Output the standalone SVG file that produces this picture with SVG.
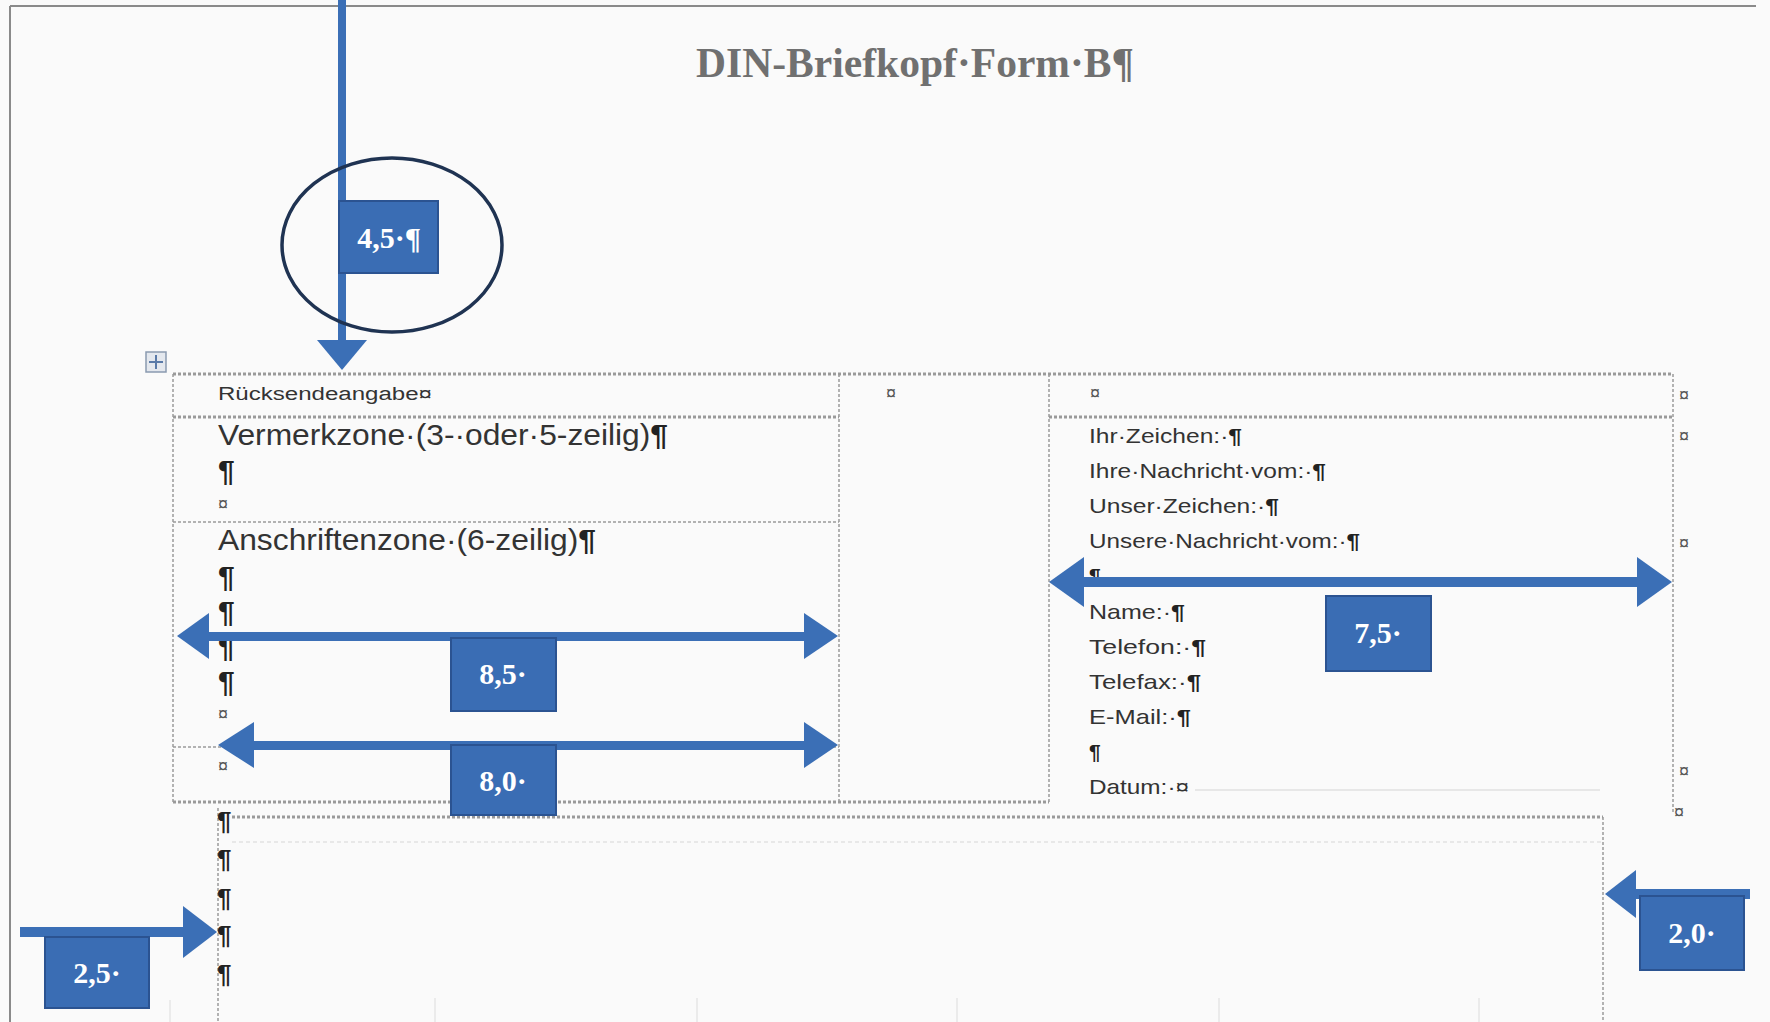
<svg xmlns="http://www.w3.org/2000/svg" width="1770" height="1022" viewBox="0 0 1770 1022">
<style>
.dot{stroke:#9a9a9a;stroke-width:1.5;stroke-dasharray:3 2;fill:none}
.dotb{stroke:#9a9a9a;stroke-width:3;stroke-dasharray:3 2;fill:none}
.t{font-family:"Liberation Sans",Arial,sans-serif;fill:#333}
.big{font-size:30px}
.sm{font-size:21px}
.p{font-weight:bold;fill:#222}
.mk{font-family:"Liberation Sans",Arial,sans-serif;font-size:18px;fill:#555}
.pil{font-family:"Liberation Sans",Arial,sans-serif;font-size:26px;font-weight:bold;fill:#222}
.box{fill:#3a6db4;stroke:#2b5391;stroke-width:2}
.bl{font-family:"Liberation Serif","Times New Roman",serif;font-weight:bold;font-size:30px;fill:#fff;text-anchor:middle}
.arr{fill:#3b6fb6}
</style>
<rect x="0" y="0" width="1770" height="1022" fill="#fafafa"/>
<g id="page">
<line x1="10" y1="6" x2="1756" y2="6" stroke="#8a8a8a" stroke-width="2"/>
<line x1="10" y1="6" x2="10" y2="1022" stroke="#8a8a8a" stroke-width="2"/>
<g stroke="#e6e6e6" stroke-width="1.5">
<line x1="170" y1="1000" x2="170" y2="1022"/>
<line x1="435" y1="998" x2="435" y2="1022"/>
<line x1="697" y1="998" x2="697" y2="1022"/>
<line x1="957" y1="998" x2="957" y2="1022"/>
<line x1="1219" y1="998" x2="1219" y2="1022"/>
<line x1="1479" y1="998" x2="1479" y2="1022"/>
</g>
</g>
<g id="title">
<text x="696" y="77" font-family="'Liberation Serif','Times New Roman',serif" font-weight="bold" font-size="42" fill="#707070" textLength="438" lengthAdjust="spacingAndGlyphs">DIN-Briefkopf·Form·B¶</text>
</g>
<g id="table">
<rect x="146" y="352" width="20" height="20" fill="#e4e8ee" stroke="#8a9ab0" stroke-width="1.5"/>
<path d="M156 355 V369 M149 362 H163" stroke="#5a7aa8" stroke-width="2"/>
<line class="dotb" x1="173" y1="374" x2="1673" y2="374"/>
<line class="dot" x1="173" y1="374" x2="173" y2="802"/>
<line class="dot" x1="839" y1="374" x2="839" y2="802"/>
<line class="dot" x1="1049" y1="374" x2="1049" y2="802"/>
<line class="dot" x1="1673" y1="374" x2="1673" y2="812"/>
<line class="dotb" x1="173" y1="417" x2="839" y2="417"/>
<line class="dotb" x1="1049" y1="417" x2="1673" y2="417"/>
<line class="dot" x1="173" y1="522" x2="839" y2="522"/>
<line class="dot" x1="173" y1="747" x2="839" y2="747"/>
<line class="dotb" x1="173" y1="802" x2="1049" y2="802"/>
<line x1="1195" y1="790" x2="1600" y2="790" stroke="#e0e0e0" stroke-width="1.5"/>
<text class="t" x="218" y="400" font-size="18" textLength="214" lengthAdjust="spacingAndGlyphs">Rücksendeangabe¤</text>
<text class="t big" x="218" y="445" textLength="450" lengthAdjust="spacingAndGlyphs">Vermerkzone·(3-·oder·5-zeilig)<tspan class="p">¶</tspan></text>
<text class="t big p" x="218" y="481">¶</text>
<text class="mk" x="218" y="510">¤</text>
<text class="t big" x="218" y="550" textLength="378" lengthAdjust="spacingAndGlyphs">Anschriftenzone·(6-zeilig)<tspan class="p">¶</tspan></text>
<text class="t big p" x="218" y="587">¶</text>
<text class="t big p" x="218" y="622">¶</text>
<text class="t big p" x="218" y="657">¶</text>
<text class="t big p" x="218" y="692">¶</text>
<text class="mk" x="218" y="720">¤</text>
<text class="mk" x="218" y="772">¤</text>
<text class="mk" x="886" y="399">¤</text>
<text class="mk" x="1090" y="399">¤</text>
<text class="t sm" x="1089" y="443" textLength="153" lengthAdjust="spacingAndGlyphs">Ihr·Zeichen:·<tspan class="p">¶</tspan></text>
<text class="t sm" x="1089" y="478" textLength="237" lengthAdjust="spacingAndGlyphs">Ihre·Nachricht·vom:·<tspan class="p">¶</tspan></text>
<text class="t sm" x="1089" y="513" textLength="190" lengthAdjust="spacingAndGlyphs">Unser·Zeichen:·<tspan class="p">¶</tspan></text>
<text class="t sm" x="1089" y="548" textLength="271" lengthAdjust="spacingAndGlyphs">Unsere·Nachricht·vom:·<tspan class="p">¶</tspan></text>
<text class="t sm p" x="1089" y="583">¶</text>
<text class="t sm" x="1089" y="619" textLength="96" lengthAdjust="spacingAndGlyphs">Name:·<tspan class="p">¶</tspan></text>
<text class="t sm" x="1089" y="654" textLength="117" lengthAdjust="spacingAndGlyphs">Telefon:·<tspan class="p">¶</tspan></text>
<text class="t sm" x="1089" y="689" textLength="112" lengthAdjust="spacingAndGlyphs">Telefax:·<tspan class="p">¶</tspan></text>
<text class="t sm" x="1089" y="724" textLength="102" lengthAdjust="spacingAndGlyphs">E-Mail:·<tspan class="p">¶</tspan></text>
<text class="t sm p" x="1089" y="759">¶</text>
<text class="t sm" x="1089" y="794" textLength="100" lengthAdjust="spacingAndGlyphs">Datum:·¤</text>
<text class="mk" x="1679" y="401">¤</text>
<text class="mk" x="1679" y="442">¤</text>
<text class="mk" x="1679" y="549">¤</text>
<text class="mk" x="1679" y="777">¤</text>
<text class="mk" x="1674" y="818" font-size="15">¤</text>
</g>
<g id="body-frame">
<line class="dotb" x1="232" y1="817" x2="1603" y2="817"/>
<line x1="232" y1="842" x2="1603" y2="842" stroke="#e2e2e2" stroke-width="1.5" stroke-dasharray="4 3"/>
<line class="dot" x1="218" y1="808" x2="218" y2="1022"/>
<line class="dot" x1="1603" y1="817" x2="1603" y2="1022"/>
<text class="pil" x="217" y="830">¶</text>
<text class="pil" x="217" y="868">¶</text>
<text class="pil" x="217" y="907">¶</text>
<text class="pil" x="217" y="944">¶</text>
<text class="pil" x="217" y="983">¶</text>
</g>
<g id="connectors">
<rect class="arr" x="338" y="0" width="8" height="342"/>
<polygon class="arr" points="317,340 367,340 342,370"/>
<ellipse cx="392" cy="245" rx="110" ry="87" fill="none" stroke="#1f3352" stroke-width="3.5"/>
<rect class="arr" x="205" y="632" width="602" height="9"/>
<polygon class="arr" points="177,636 209,613 209,659"/>
<polygon class="arr" points="838,636 804,613 804,659"/>
<rect class="arr" x="250" y="741" width="557" height="9"/>
<polygon class="arr" points="218,745 254,722 254,768"/>
<polygon class="arr" points="838,745 804,722 804,768"/>
<rect class="arr" x="1080" y="577" width="558" height="10"/>
<polygon class="arr" points="1049,582 1084,557 1084,607"/>
<polygon class="arr" points="1672,582 1637,557 1637,607"/>
<rect class="arr" x="20" y="927" width="166" height="10"/>
<polygon class="arr" points="217,932 183,906 183,958"/>
<rect class="arr" x="1632" y="889" width="118" height="10"/>
<polygon class="arr" points="1605,894 1636,870 1636,918"/>
</g>
<g id="label-4-5">
<rect class="box" x="339" y="201" width="99" height="72"/>
<text class="bl" x="389" y="248">4,5·¶</text>
</g>
<g id="label-8-5">
<rect class="box" x="451" y="638" width="105" height="73"/>
<text class="bl" x="503" y="684">8,5·</text>
</g>
<g id="label-8-0">
<rect class="box" x="451" y="745" width="105" height="70"/>
<text class="bl" x="503" y="791">8,0·</text>
</g>
<g id="label-7-5">
<rect class="box" x="1326" y="596" width="105" height="75"/>
<text class="bl" x="1378" y="643">7,5·</text>
</g>
<g id="label-2-5">
<rect class="box" x="45" y="937" width="104" height="71"/>
<text class="bl" x="97" y="983">2,5·</text>
</g>
<g id="label-2-0">
<rect class="box" x="1640" y="896" width="104" height="74"/>
<text class="bl" x="1692" y="943">2,0·</text>
</g>
</svg>
